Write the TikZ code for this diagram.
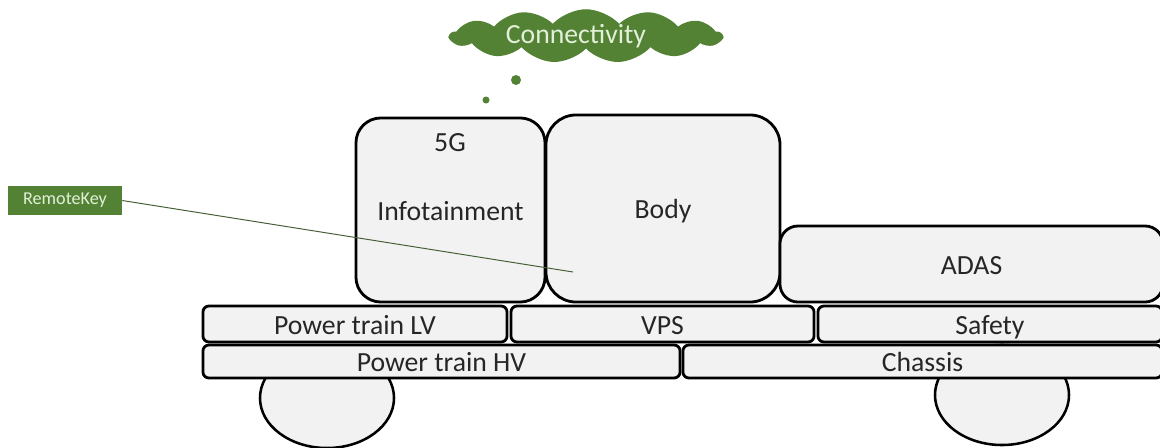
\documentclass[tikz,border=0pt]{standalone}
\usepackage{fontspec}
\setmainfont{Carlito}
\usetikzlibrary{shapes.geometric, shapes.symbols}
\definecolor{boxgray}{RGB}{242,242,242}
\definecolor{textdark}{RGB}{38,38,38}
\definecolor{leafgreen}{RGB}{84,130,53}
\definecolor{palegreen}{RGB}{226,240,217}
\definecolor{wiregreen}{RGB}{70,95,55}
\tikzset{
		unit block/.style={draw=black,line width=2pt,fill=boxgray,text=textdark,
			font=\fontsize{19.7}{24}\selectfont,inner sep=0pt,text height=18pt,text depth=3.5pt},
		bar block/.style={unit block,rounded corners=0.15cm,minimum height=0.9cm},
		wheel/.style={draw=black,line width=1.8pt,fill=boxgray,ellipse,
			minimum width=3.35cm,minimum height=2.5cm},
		green tag/.style={fill=leafgreen,text=palegreen,inner sep=0pt},
		bubble/.style={circle,fill=leafgreen,inner sep=0pt}
	}
\begin{document}
\begin{tikzpicture}[x=0.025cm,y=-0.025cm]
				\useasboundingbox (0,0) rectangle (1160,448);
				% wheels behind the chassis
				\node[wheel] (wheelL) at (327,398) {};
				\node[wheel] (wheelR) at (1002,395) {};

				% upper units
				\node[unit block,rounded corners=0.62cm,minimum width=4.725cm,minimum height=4.6cm]
					(info) at (450.5,210) {Infotainment};
				\node[text=textdark,font=\fontsize{19.7}{24}\selectfont] (fiveg) at (450,143) {5G};
				\node[unit block,rounded corners=0.75cm,minimum width=5.85cm,minimum height=4.675cm]
					(body) at (663,208.5) {Body};
				\node[unit block,rounded corners=0.45cm,minimum width=9.575cm,minimum height=1.9cm]
					(adas) at (971.5,264) {ADAS};

				% bars
				\node[bar block,minimum width=7.6cm]   (ptlv)   at (355,324)   {Power train LV};
				\node[bar block,minimum width=7.575cm] (vps)    at (662.5,324) {VPS};
				\node[bar block,minimum width=8.6cm]   (safety) at (990,324)   {Safety};
				\node[bar block,minimum width=11.925cm,minimum height=0.825cm] (pthv)    at (441.5,361.5) {Power train HV};
				\node[bar block,minimum width=11.975cm,minimum height=0.825cm] (chassis) at (922.5,361.5) {Chassis};

				% connectivity cloud
				\node[cloud,green tag,cloud puffs=13,cloud puff arc=95,aspect=6,
					minimum width=6.8cm,minimum height=1.3cm,font=\fontsize{19.7}{24}\selectfont]
					(cloud) at (586,36) {\hspace*{-0.5cm}Connectivity};
				\node[bubble,minimum size=0.25cm]  (dotA) at (516,80)  {};
				\node[bubble,minimum size=0.175cm] (dotB) at (486,100) {};

				% remote key
				\node[green tag,minimum width=2.85cm,minimum height=0.725cm,
					font=\fontsize{12.9}{15}\selectfont] (key) at (65,200.5) {RemoteKey};
				\coordinate (keyend) at (573,272);
				\path[draw=wiregreen,line width=0.7pt] (key.east) -- (keyend);
			\end{tikzpicture}
\end{document}
